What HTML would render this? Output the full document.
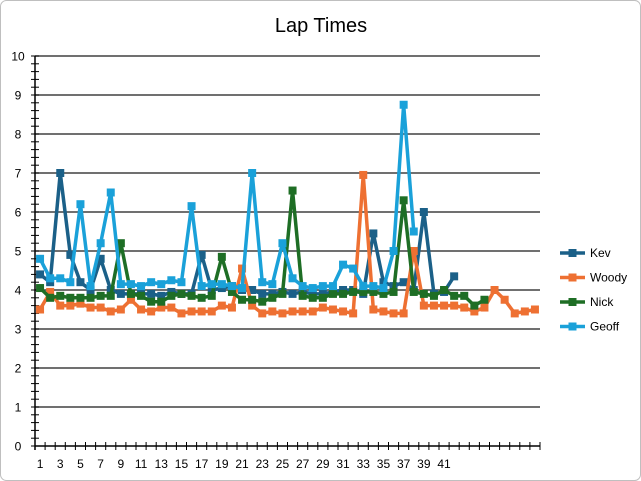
<!DOCTYPE html>
<html><head><meta charset="utf-8"><style>
html,body{margin:0;padding:0;background:#fff;}
svg{display:block;font-family:"Liberation Sans",sans-serif;}
</style></head><body>
<svg id="c" width="641" height="481" xmlns="http://www.w3.org/2000/svg">
<rect x="0.5" y="0.5" width="640" height="480" rx="6" fill="#fff" stroke="#bfbfbf"/>
<text x="321" y="32" font-size="20" text-anchor="middle" fill="#000">Lap Times</text>
<g id="g"></g>
</svg>
<script>
var g=document.getElementById('g');var s='';
function Y(v){return 446-v*39;}
function X(i){return 29.95+10.1*i;}
for(var v=0;v<=10;v++){var y=Y(v);
 s+='<line x1="35" x2="540" y1="'+y+'" y2="'+y+'" stroke="'+(v==0?'#000':'#404040')+'" stroke-width="1.5"/>';
 s+='<text x="18" y="'+(y+4.5)+'" font-size="12" text-anchor="middle">'+v+'</text>';}
for(var k=0;k<=50;k++){var y=Y(k*0.2);s+='<line x1="31" x2="39" y1="'+y+'" y2="'+y+'" stroke="#000" stroke-width="1"/>';}
s+='<line x1="35" x2="35" y1="56" y2="450" stroke="#000" stroke-width="1.5"/>';
for(var k=0;k<=50;k++){var x=35+k*10.1;s+='<line x1="'+x+'" x2="'+x+'" y1="442" y2="450" stroke="#000" stroke-width="1"/>';}
for(var i=1;i<=41;i+=2){s+='<text x="'+X(i)+'" y="468" font-size="12" text-anchor="middle">'+i+'</text>';}
var D={
'#1b6088':[4.4,4.2,7.0,4.9,4.2,4.0,4.8,4.0,3.9,3.9,3.9,3.9,3.85,3.95,3.9,3.9,4.9,4.0,4.05,4.1,4.0,4.0,3.9,3.9,3.95,3.9,3.95,3.9,3.9,3.95,4.0,4.0,3.9,5.45,4.2,4.1,4.2,4.0,6.0,3.9,3.95,4.35],
'#ee7032':[3.5,3.95,3.6,3.6,3.65,3.55,3.55,3.45,3.5,3.75,3.5,3.45,3.55,3.55,3.4,3.45,3.45,3.45,3.6,3.55,4.55,3.6,3.4,3.45,3.4,3.45,3.45,3.45,3.55,3.5,3.45,3.4,6.95,3.5,3.45,3.4,3.4,5.0,3.6,3.6,3.6,3.6,3.55,3.45,3.55,4.0,3.75,3.4,3.45,3.5],
'#1e6e25':[4.05,3.8,3.85,3.8,3.8,3.8,3.85,3.85,5.2,3.9,3.85,3.7,3.7,3.85,3.9,3.85,3.8,3.85,4.85,3.95,3.75,3.75,3.7,3.8,3.9,6.55,3.85,3.8,3.8,3.9,3.9,3.95,3.95,3.95,3.9,3.95,6.3,3.95,3.9,3.85,4.0,3.85,3.85,3.6,3.75],
'#1aa1d9':[4.8,4.3,4.3,4.2,6.2,4.1,5.2,6.5,4.15,4.15,4.1,4.2,4.15,4.25,4.2,6.15,4.1,4.15,4.15,4.1,4.05,7.0,4.2,4.15,5.2,4.3,4.1,4.05,4.1,4.1,4.65,4.55,4.1,4.1,4.05,5.0,8.75,5.5]};
var names=['Kev','Woody','Nick','Geoff'];var n=0;
for(var c in D){var a=D[c],p='';
 for(var i=0;i<a.length;i++)p+=(i?'L':'M')+X(i+1)+','+Y(a[i]);
 s+='<path d="'+p+'" fill="none" stroke="'+c+'" stroke-width="3.5" stroke-linejoin="round"/>';
 for(var i=0;i<a.length;i++)s+='<rect x="'+(X(i+1)-4)+'" y="'+(Y(a[i])-4)+'" width="8" height="8" fill="'+c+'"/>';
 var ly=253+n*24.5;
 s+='<line x1="560" x2="585" y1="'+ly+'" y2="'+ly+'" stroke="'+c+'" stroke-width="3.5"/><rect x="568.5" y="'+(ly-4)+'" width="8" height="8" fill="'+c+'"/>';
 s+='<text x="590" y="'+(ly+4)+'" font-size="12">'+names[n]+'</text>';n++;}
g.innerHTML=s;
</script>
</body></html>
